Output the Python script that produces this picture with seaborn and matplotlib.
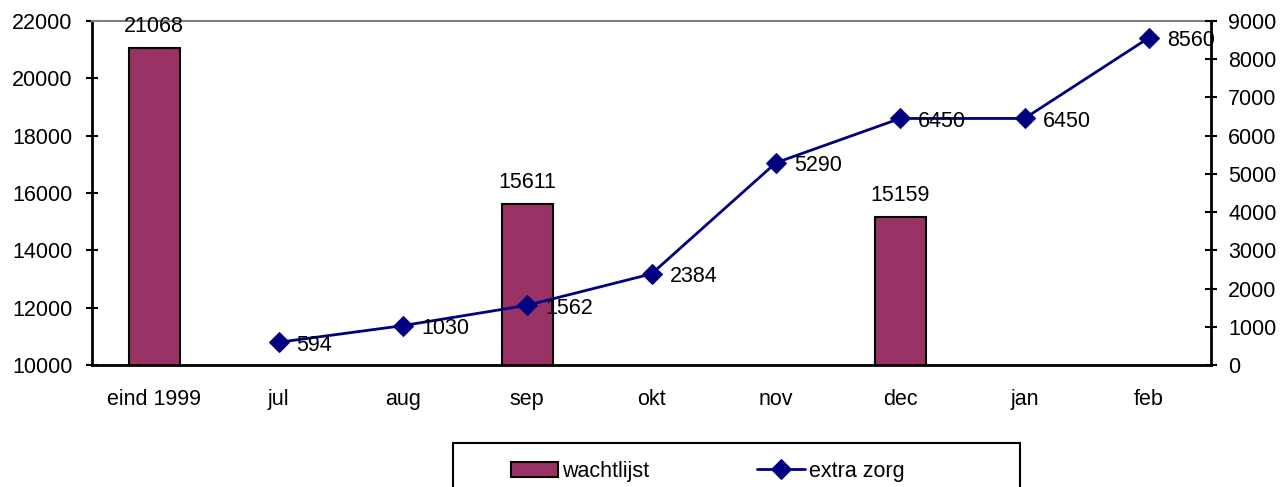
import matplotlib
matplotlib.use('Agg')
import matplotlib.pyplot as plt
from matplotlib.patches import Rectangle
import numpy as np
import pandas as pd
import seaborn as sns

# ── data ─────────────────────────────────────────────
maanden = ['eind 1999', 'jul', 'aug', 'sep', 'okt', 'nov', 'dec', 'jan', 'feb']

wacht_maanden = ['eind 1999', 'sep', 'dec']
wachtlijst = [21068, 15611, 15159]

zorg_maanden = ['jul', 'aug', 'sep', 'okt', 'nov', 'dec', 'jan', 'feb']
extra_zorg = [594, 1030, 1562, 2384, 5290, 6450, 6450, 8560]

left_ticks = [10000, 12000, 14000, 16000, 18000, 20000, 22000]
right_ticks = [0, 1000, 2000, 3000, 4000, 5000, 6000, 7000, 8000, 9000]

BAR_COLOR = '#993366'
LINE_COLOR = '#000080'
FS = 15.5

sns.set_theme(style='white')
plt.rcParams['font.family'] = ['Liberation Sans', 'DejaVu Sans']
plt.rcParams['text.color'] = 'black'

W, H = 1280, 487
fig = plt.figure(figsize=(W / 100, H / 100), dpi=100)
fig.patch.set_facecolor('white')
ax = fig.add_axes([92 / W, 1 - 365 / H, (1211 - 92) / W, (365 - 21) / H])

df_bar = pd.DataFrame({'maand': wacht_maanden, 'wachtlijst': wachtlijst})
sns.barplot(data=df_bar, x='maand', y='wachtlijst', order=maanden,
            color=BAR_COLOR, saturation=1, width=0.41,
            edgecolor='black', linewidth=1.5, ax=ax)
ax.bar_label(ax.containers[0], fmt='%d', padding=8, fontsize=FS,
             color='black')

ax2 = ax.twinx()
df_line = pd.DataFrame({'pos': [maanden.index(m) for m in zorg_maanden],
                        'extra': extra_zorg})
sns.lineplot(data=df_line, x='pos', y='extra', ax=ax2, color=LINE_COLOR,
             marker='D', markersize=10, markeredgecolor=LINE_COLOR,
             linewidth=2, legend=False)
for p, v in zip(df_line['pos'], df_line['extra']):
    ax2.annotate(f'{v}', (p, v), xytext=(13, -2), textcoords='offset points',
                 ha='left', va='center', fontsize=FS, color='black')

# ── axes styling ─────────────────────────────────────
ax.set_xlim(-0.5, len(maanden) - 0.5)
ax.set_ylim(10000, 22000)
ax2.set_ylim(0, 9000)
ax.set_yticks(left_ticks)
ax2.set_yticks(right_ticks)
ax.set_xticks(range(len(maanden)))
ax.set_xticklabels(maanden)
ax.set_xticks(np.arange(-0.5, len(maanden)), minor=True)
for a in (ax, ax2):
    a.set_xlabel('')
    a.set_ylabel('')
    a.grid(False)

ax.tick_params(axis='x', which='major', length=0, pad=17.5,
               labelsize=FS, colors='black')
ax.tick_params(axis='x', which='minor', direction='inout', length=9,
               width=1.5, color='black')
ax.tick_params(axis='y', direction='inout', length=9, width=1.5,
               pad=9.5, labelsize=FS, colors='black')
ax2.tick_params(axis='y', direction='inout', length=9, width=1.5,
                pad=8, labelsize=FS, colors='black')

for s in ['left', 'bottom']:
    ax.spines[s].set_color('black')
    ax.spines[s].set_linewidth(2)
ax.spines['right'].set_visible(False)
ax.spines['top'].set_color('#808080')
ax.spines['top'].set_linewidth(1.5)
for s in ['left', 'bottom', 'top']:
    ax2.spines[s].set_visible(False)
ax2.spines['right'].set_color('black')
ax2.spines['right'].set_linewidth(2)

# ── legend ───────────────────────────────────────────
handles = [ax.containers[0].patches[0], ax2.lines[0]]
fig.legend(handles, ['wachtlijst', 'extra zorg'], ncol=2,
           loc='upper left', bbox_to_anchor=(500 / W, 1 - 450 / H),
           frameon=False, fontsize=FS, labelcolor='black', borderpad=0,
           handlelength=2.2, handletextpad=0.2, columnspacing=5.0)
fig.patches.append(Rectangle((453 / W, -0.1), (1020 - 453) / W,
                             0.1 + (487 - 443) / H,
                             transform=fig.transFigure, fill=False,
                             edgecolor='black', linewidth=1.5))

fig.savefig('out.png', dpi=100)
